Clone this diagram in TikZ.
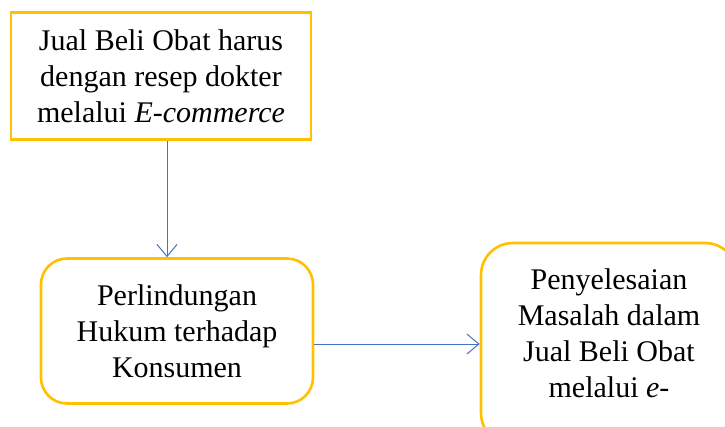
\documentclass[tikz,border=0pt]{standalone}
\usepackage{fontspec}
\setmainfont{Liberation Serif}
\usetikzlibrary{arrows.meta}
\definecolor{boxyellow}{HTML}{FFC000}
\definecolor{lineblue}{HTML}{4472C4}
\begin{document}
\begin{tikzpicture}[x=1pt, y=1pt,
    box/.style={draw=boxyellow, line width=2.6pt, align=center, inner sep=0pt,
                font=\fontsize{30}{36}\selectfont},
    roundbox/.style={box, rounded corners=26pt},
    link/.style={draw=lineblue, line width=1pt, -{Straight Barb[length=12pt, width=20pt, line width=1pt]}}]

  \useasboundingbox (0,0) rectangle (725,-426);
  \clip (0,0) rectangle (725,-426);

	%boxes
 \node[box, minimum width=300, minimum height=127] (syarat) at (161,-76)
      {Jual Beli Obat harus\\dengan resep dokter\\melalui \textit{E-commerce}};

 \node[roundbox, minimum width=272, minimum height=145] (hukum) at (177,-331)
      {Perlindungan\\Hukum terhadap\\Konsumen};

 \node[roundbox, rounded corners=32pt, minimum width=256, minimum height=202, text depth=22pt] (selesai) at (609,-344)
      {Penyelesaian\\Masalah dalam\\Jual Beli Obat\\melalui \textit{e-}};

	%arrows
 \draw[link] ([xshift=6pt]syarat.south) -- ([xshift=6pt]syarat.south |- hukum.north);
 \draw[link] (hukum.east |- selesai.west) -- (selesai.west);

\end{tikzpicture}
\end{document}
